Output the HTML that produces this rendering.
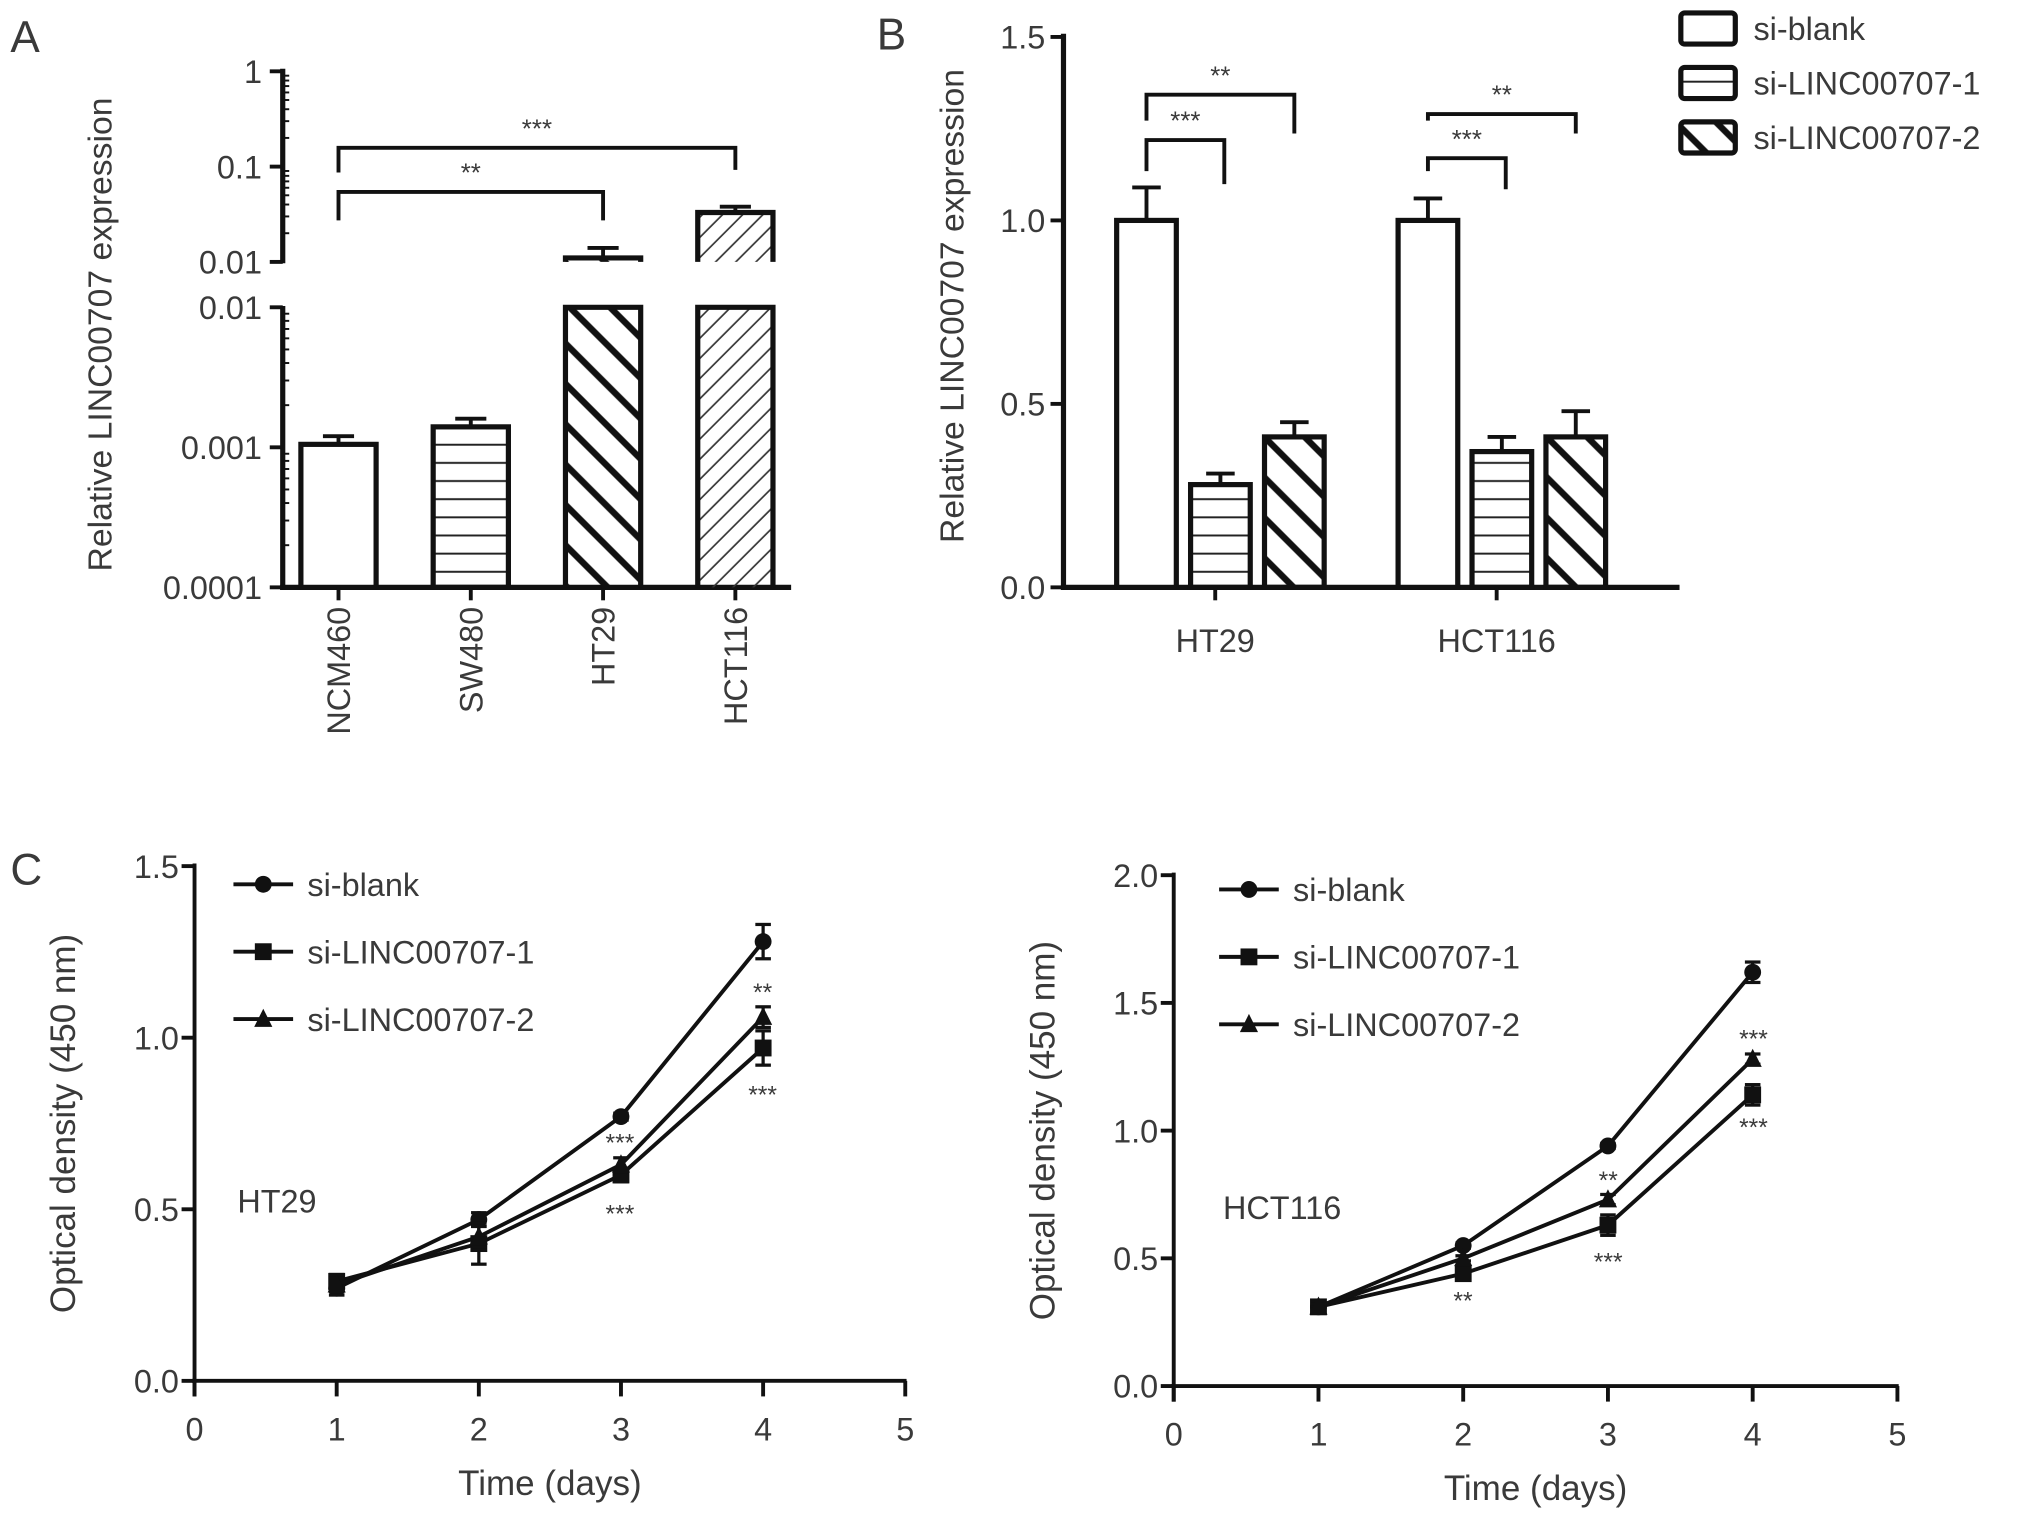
<!DOCTYPE html>
<html><head><meta charset="utf-8">
<style>
html,body{margin:0;padding:0;background:#fff;}
svg{display:block;}
text{font-family:"Liberation Sans",sans-serif;fill:#3a3a3a;}
</style></head>
<body>
<svg id="fig" width="2031" height="1517" viewBox="0 0 1566 1170" preserveAspectRatio="none" xmlns="http://www.w3.org/2000/svg">
<defs>
<pattern id="pHoriz" patternUnits="userSpaceOnUse" width="20" height="14"><line x1="0" y1="7" x2="20" y2="7" stroke="#222" stroke-width="1.5"/></pattern>
<pattern id="pBack" patternUnits="userSpaceOnUse" width="22" height="22" patternTransform="rotate(45)"><line x1="0" y1="11" x2="22" y2="11" stroke="#111" stroke-width="5"/></pattern>
<pattern id="pFwd" patternUnits="userSpaceOnUse" width="11" height="11" patternTransform="rotate(-45)"><line x1="0" y1="5" x2="11" y2="5" stroke="#333" stroke-width="1.3"/></pattern>
</defs>
<g id="root"></g>
</svg>
<script>
// ---------- Panel A data ----------
const aCategories = ["NCM460", "SW480", "HT29", "HCT116"];
const aValues = [0.00105, 0.0014, 0.011, 0.033];
const aErrors = [0.0012, 0.0016, 0.014, 0.038];
const aFills = ["#fff", "url(#pHoriz)", "url(#pBack)", "url(#pFwd)"];
const aUpperTicks = ["1", "0.1", "0.01"];
const aLowerTicks = ["0.01", "0.001", "0.0001"];
// ---------- Panel B data ----------
const bGroups = ["HT29", "HCT116"];
const bSeries = ["si-blank", "si-LINC00707-1", "si-LINC00707-2"];
const bBlank = [1.0, 1.0];
const bSi1 = [0.28, 0.37];
const bSi2 = [0.41, 0.41];
const bBlankErr = [1.09, 1.06];
const bSi1Err = [0.31, 0.41];
const bSi2Err = [0.45, 0.48];
const bTicks = [0, 0.5, 1.0, 1.5];
// ---------- Panel C data ----------
const cDays = [1, 2, 3, 4];
const cXTicks = [0, 1, 2, 3, 4, 5];
const htBlank = [0.27, 0.47, 0.77, 1.28];
const htSi1 = [0.29, 0.40, 0.60, 0.97];
const htSi2 = [0.28, 0.42, 0.63, 1.06];
const htBlankErr = [0.02, 0.02, 0.01, 0.05];
const htSi1Err = [0.02, 0.06, 0.02, 0.05];
const htSi2Err = [0.02, 0.03, 0.02, 0.03];
const htTicks = [0, 0.5, 1.0, 1.5];
const hcBlank = [0.31, 0.55, 0.94, 1.62];
const hcSi1 = [0.31, 0.44, 0.63, 1.14];
const hcSi2 = [0.31, 0.50, 0.73, 1.28];
const hcBlankErr = [0.01, 0.01, 0.01, 0.04];
const hcSi1Err = [0.01, 0.02, 0.04, 0.04];
const hcSi2Err = [0.01, 0.01, 0.02, 0.02];
const hcTicks = [0, 0.5, 1.0, 1.5, 2.0];

const NS = "http://www.w3.org/2000/svg";
const root = document.getElementById("root");
function mk(tag, attrs, name, parent) {
  const el = document.createElementNS(NS, tag);
  for (const k in attrs) el.setAttribute(k, attrs[k]);
  
  
  (parent || root).appendChild(el);
  return el;
}
function line(x1, y1, x2, y2, w, name, p) { return mk("line", {x1, y1, x2, y2, stroke: "#111", "stroke-width": w}, name, p); }
function txt(x, y, s, size, anchor, name, extra) {
  const t = mk("text", Object.assign({x, y, "font-size": size, "text-anchor": anchor || "start"}, extra || {}), name);
  t.textContent = s; return t;
}
function bracket(x1, x2, y, ly1, ly2, label, name) {
  mk("path", {d: `M${x1},${ly1} L${x1},${y} L${x2},${y} L${x2},${ly2}`, fill: "none", stroke: "#111", "stroke-width": 3}, name);
  txt((x1 + x2) / 2, y - 8, label, 20, "middle", name + "-label");
}

// ============ Panel A ============
txt(8, 40, "A", 34, "start", "panel-a-label");
const axA = 218, aBase = 453;
const yUp = v => 202 - (Math.log10(v) + 2) * 73.5;
const yLo = v => 453 - (Math.log10(v) + 4) * 108;
const aX = i => 261 + i * 102;
const aW = 58;
line(axA, 53, axA, 203, 4, "a-y-axis-upper");
line(axA, 236, axA, aBase + 2, 4, "a-y-axis-lower");
line(axA - 2, aBase, 610, aBase, 4, "a-x-axis");
aUpperTicks.forEach((s, i) => {
  const v = parseFloat(s), y = yUp(v);
  line(axA - 10, y, axA, y, 3, "a-upper-tick");
  txt(axA - 16, y + 9, s, 25, "end", "a-upper-tick-label");
  for (let k = 2; k < 10 && i < 2; k++) line(axA, yUp(v * k / 10), axA + 5, yUp(v * k / 10), 1.5, "a-minor-tick");
});
aLowerTicks.forEach((s, i) => {
  const v = parseFloat(s), y = yLo(v);
  line(axA - 10, y, axA, y, 3, "a-lower-tick");
  txt(axA - 16, y + 9, s, 25, "end", "a-lower-tick-label");
  for (let k = 2; k < 10 && i > 0; k++) line(axA, yLo(v * k), axA + 5, yLo(v * k), 1.5, "a-minor-tick");
});
txt(0, 0, "Relative LINC00707 expression", 26, "middle", "a-y-axis-title", {transform: "translate(86,258) rotate(-90)"});
aCategories.forEach((c, i) => {
  const x = aX(i), v = aValues[i], e = aErrors[i];
  if (v < 0.01) {
    const top = yLo(v);
    line(x, yLo(e), x, top, 3, "a-error-bar");
    line(x - 12, yLo(e), x + 12, yLo(e), 3, "a-error-cap");
    mk("rect", {x: x - aW / 2, y: top, width: aW, height: aBase - top, fill: aFills[i], stroke: "#111", "stroke-width": 4}, "a-bar-" + c.toLowerCase());
  } else {
    const top = yUp(v);
    line(x, yUp(e), x, top, 3, "a-error-bar");
    line(x - 12, yUp(e), x + 12, yUp(e), 3, "a-error-cap");
    mk("path", {d: `M${x - aW / 2},202 L${x - aW / 2},${top} L${x + aW / 2},${top} L${x + aW / 2},202`, fill: aFills[i], stroke: "#111", "stroke-width": 4}, "a-bar-upper-" + c.toLowerCase());
    mk("path", {d: `M${x - aW / 2},${aBase} L${x - aW / 2},237 L${x + aW / 2},237 L${x + aW / 2},${aBase}`, fill: aFills[i], stroke: "#111", "stroke-width": 4}, "a-bar-lower-" + c.toLowerCase());
  }
  line(x, aBase, x, aBase + 10, 3, "a-x-tick");
  txt(0, 0, c, 25, "end", "a-x-tick-label", {transform: `translate(${x + 9},468) rotate(-90)`});
});
bracket(aX(0), aX(2), 148, 170, 170, "**", "a-bracket-ht29");
bracket(aX(0), aX(3), 114, 133, 131, "***", "a-bracket-hct116");

// ============ Panel B ============
txt(676, 38, "B", 34, "start", "panel-b-label");
const axB = 820, bBase = 453;
const yB = v => bBase - v * 283;
line(axB, 26, axB, bBase + 2, 4, "b-y-axis");
line(axB - 2, bBase, 1295, bBase, 4, "b-x-axis");
bTicks.forEach(v => {
  line(axB - 10, yB(v), axB, yB(v), 3, "b-y-tick");
  txt(axB - 14, yB(v) + 9, v.toFixed(1), 25, "end", "b-y-tick-label");
});
txt(0, 0, "Relative LINC00707 expression", 26, "middle", "b-y-axis-title", {transform: "translate(743,236) rotate(-90)"});
const bVals = [bBlank, bSi1, bSi2], bErrs = [bBlankErr, bSi1Err, bSi2Err];
const bFills = ["#fff", "url(#pHoriz)", "url(#pBack)"];
const bGroupX = g => 941 + g * 217;
const bW = 46;
bGroups.forEach((g, gi) => {
  const cx = bGroupX(gi);
  bSeries.forEach((s, si) => {
    const x = cx + (si - 1) * 57, v = bVals[si][gi], e = bErrs[si][gi];
    line(x, yB(e), x, yB(v), 3, "b-error-bar");
    line(x - 11, yB(e), x + 11, yB(e), 3, "b-error-cap");
    mk("rect", {x: x - bW / 2, y: yB(v), width: bW, height: bBase - yB(v), fill: bFills[si], stroke: "#111", "stroke-width": 4}, "b-bar-" + g.toLowerCase() + "-" + si);
  });
  line(cx - 4, bBase, cx - 4, bBase + 10, 3, "b-x-tick");
  txt(cx - 4, 503, g, 25, "middle", "b-x-tick-label");
  const x0 = cx - 57;
  bracket(x0, cx + 3, [108, 122][gi], 132, 132 + (gi ? 14 : 10), "***", "b-bracket-si1-" + g.toLowerCase());
  bracket(x0, cx + 57, [73, 88][gi], 93, 103, "**", "b-bracket-si2-" + g.toLowerCase());
});
bSeries.forEach((s, i) => {
  const y = 10 + i * 42;
  mk("rect", {x: 1296, y, width: 42, height: 24, rx: 3, fill: bFills[i], stroke: "#111", "stroke-width": 4}, "b-legend-swatch");
  txt(1352, y + 21, s, 25, "start", "b-legend-entry");
});

// ============ Panel C ============
txt(8, 682, "C", 34, "start", "panel-c-label");
function linePanel(cfg) {
  const {ax, x5, y0, yTop, vmax, ticks, series, errs, title, label, labelPos, legX, legY, stars, tag} = cfg;
  const xs = d => ax + d * (x5 - ax) / 5;
  const ys = v => y0 - v * (y0 - yTop) / vmax;
  line(ax, yTop - 2, ax, y0 + 12, 3, tag + "-y-axis");
  line(ax - 2, y0, x5 + 1, y0, 3, tag + "-x-axis");
  ticks.forEach(v => {
    line(ax - 10, ys(v), ax, ys(v), 3, tag + "-y-tick");
    txt(ax - 12, ys(v) + 9, v.toFixed(1), 25, "end", tag + "-y-tick-label");
  });
  cXTicks.forEach(d => {
    line(xs(d), y0, xs(d), y0 + 12, 3, tag + "-x-tick");
    txt(xs(d), y0 + 46, String(d), 25, "middle", tag + "-x-tick-label");
  });
  txt((ax + x5) / 2, y0 + 88, "Time (days)", 27, "middle", tag + "-x-axis-title");
  txt(0, 0, "Optical density (450 nm)", 27, "middle", tag + "-y-axis-title", {transform: `translate(${ax - 92},${(y0 + yTop) / 2}) rotate(-90)`});
  txt(labelPos[0], labelPos[1], label, 25, "start", tag + "-cell-label");
  const names = ["si-blank", "si-LINC00707-1", "si-LINC00707-2"];
  series.forEach((arr, si) => {
    const pts = cDays.map((d, i) => xs(d) + "," + ys(arr[i])).join(" ");
    mk("polyline", {points: pts, fill: "none", stroke: "#111", "stroke-width": 3}, tag + "-line-" + names[si]);
    cDays.forEach((d, i) => {
      const x = xs(d), y = ys(arr[i]), e = errs[si][i];
      line(x, ys(arr[i] + e), x, ys(arr[i] - e), 2.5, tag + "-error-bar");
      line(x - 6, ys(arr[i] + e), x + 6, ys(arr[i] + e), 2.5, tag + "-error-cap");
      line(x - 6, ys(arr[i] - e), x + 6, ys(arr[i] - e), 2.5, tag + "-error-cap");
      marker(x, y, si, tag + "-point-" + names[si]);
    });
  });
  names.forEach((n, i) => {
    const y = legY + i * 52;
    line(legX, y, legX + 46, y, 3, tag + "-legend-line");
    marker(legX + 23, y, i, tag + "-legend-marker");
    txt(legX + 57, y + 9, n, 25, "start", tag + "-legend-entry");
  });
  stars.forEach(s => txt(s[0], s[1], s[2], 19, "middle", tag + "-significance"));
}
function marker(x, y, si, name) {
  if (si === 0) mk("circle", {cx: x, cy: y, r: 6.5, fill: "#111"}, name);
  else if (si === 1) mk("rect", {x: x - 6.5, y: y - 6.5, width: 13, height: 13, fill: "#111"}, name);
  else mk("polygon", {points: `${x},${y - 8} ${x + 7},${y + 6} ${x - 7},${y + 6}`, fill: "#111"}, name);
}
linePanel({ax: 150, x5: 698, y0: 1065, yTop: 668, vmax: 1.5, ticks: htTicks,
  series: [htBlank, htSi1, htSi2], errs: [htBlankErr, htSi1Err, htSi2Err],
  label: "HT29", labelPos: [183, 935], legX: 180, legY: 682, tag: "c-ht29",
  stars: [[478, 888, "***"], [478, 943, "***"], [588, 772, "**"], [588, 851, "***"]]});
linePanel({ax: 905, x5: 1463, y0: 1069, yTop: 675, vmax: 2.0, ticks: hcTicks,
  series: [hcBlank, hcSi1, hcSi2], errs: [hcBlankErr, hcSi1Err, hcSi2Err],
  label: "HCT116", labelPos: [943, 940], legX: 940, legY: 686, tag: "c-hct116",
  stars: [[1128, 1010, "**"], [1240, 917, "**"], [1240, 980, "***"], [1352, 808, "***"], [1352, 876, "***"]]});
</script>
</body></html>
